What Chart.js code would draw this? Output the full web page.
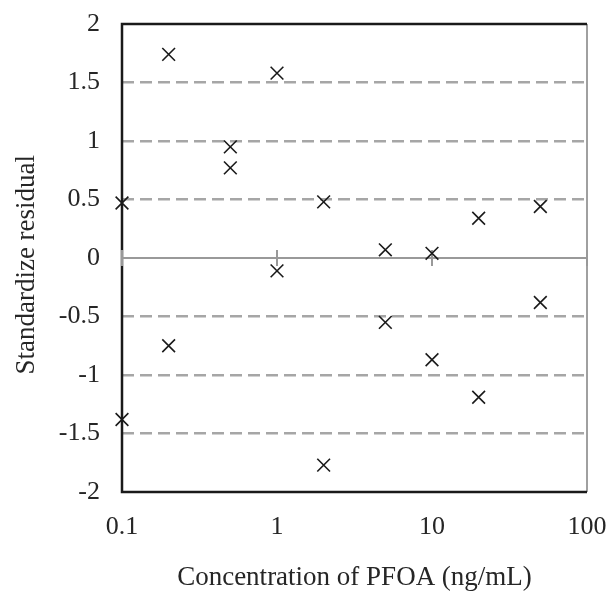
<!DOCTYPE html>
<html>
<head>
<meta charset="utf-8">
<script src="https://cdn.jsdelivr.net/npm/chart.js@4"></script>
<style>
  html, body { margin: 0; padding: 0; background: #fff; }
  #wrap { width: 611px; height: 594px; }
</style>
</head>
<body>
<div id="wrap"><canvas id="residualChart" width="611" height="594"></canvas></div>
<script>
// concentration (ng/mL) and standardized residual
const concentrations = [0.1, 0.1, 0.2, 0.2, 0.5, 0.5, 1, 1, 2, 2, 5, 5, 10, 10, 20, 20, 50, 50];
const residuals = [0.47, -1.38, 1.74, -0.75, 0.95, 0.77, 1.58, -0.11, 0.48, -1.77,
                   0.07, -0.55, 0.04, -0.87, 0.34, -1.19, 0.44, -0.38];
const xTickValues = [0.1, 1, 10, 100];
const yTickValues = [-2, -1.5, -1, -0.5, 0, 0.5, 1, 1.5, 2];

const SERIF = '"Liberation Serif", "Times New Roman", serif';
const TICK_FONT = { family: SERIF, size: 26 };
const TITLE_FONT = { family: SERIF, size: 27 };
const TEXT = '#262626';

// box around the plot, solid zero line and the little cross ticks on it
const framePlugin = {
  id: 'frame',
  beforeDatasetsDraw(chart) {
    const { ctx, chartArea: a, scales: { x, y } } = chart;
    const y0 = y.getPixelForValue(0);
    ctx.save();
    ctx.lineCap = 'butt';

    ctx.strokeStyle = '#a0a0a0';
    ctx.lineWidth = 2;
    ctx.beginPath();
    ctx.moveTo(a.right, a.top);
    ctx.lineTo(a.right, a.bottom);
    ctx.stroke();

    ctx.strokeStyle = '#1a1a1a';
    ctx.lineWidth = 2.5;
    ctx.beginPath();
    ctx.moveTo(a.right, a.top);
    ctx.lineTo(a.left, a.top);
    ctx.lineTo(a.left, a.bottom);
    ctx.lineTo(a.right, a.bottom);
    ctx.stroke();

    ctx.strokeStyle = '#999999';
    ctx.lineWidth = 2;
    ctx.beginPath();
    ctx.moveTo(a.left, y0);
    ctx.lineTo(a.right, y0);
    x.ticks.forEach(t => {
      const px = x.getPixelForValue(t.value);
      ctx.moveTo(px, y0 - 8);
      ctx.lineTo(px, y0 + 8);
    });
    ctx.stroke();
    ctx.restore();
  }
};

new Chart(document.getElementById('residualChart'), {
  type: 'scatter',
  data: {
    datasets: [{
      data: concentrations.map((c, i) => ({ x: c, y: residuals[i] })),
      pointStyle: 'crossRot',
      pointRadius: 9,
      pointHoverRadius: 9,
      borderColor: '#1a1a1a',
      backgroundColor: '#1a1a1a',
      pointBorderWidth: 1.6,
      clip: false
    }]
  },
  options: {
    responsive: false,
    animation: false,
    events: [],
    layout: { padding: { top: 24, right: 24, left: 0, bottom: 0 } },
    plugins: {
      legend: { display: false },
      tooltip: { enabled: false }
    },
    scales: {
      x: {
        type: 'logarithmic',
        min: 0.1,
        max: 100,
        afterBuildTicks: scale => { scale.ticks = xTickValues.map(v => ({ value: v })); },
        afterFit: scale => {
          scale.height = 102;
          scale.paddingLeft = 0;
          scale.paddingRight = 0;
        },
        grid: { display: false, drawTicks: false },
        border: { display: false },
        ticks: {
          padding: 20,
          color: TEXT,
          font: TICK_FONT,
          maxRotation: 0,
          callback: v => String(v)
        },
        title: {
          display: true,
          text: 'Concentration of PFOA (ng/mL)',
          color: TEXT,
          font: TITLE_FONT,
          padding: { top: 0, bottom: 0 }
        }
      },
      y: {
        min: -2,
        max: 2,
        afterBuildTicks: scale => { scale.ticks = yTickValues.map(v => ({ value: v })); },
        afterFit: scale => {
          scale.width = 122;
          scale.paddingTop = 0;
          scale.paddingBottom = 0;
        },
        grid: {
          drawTicks: false,
          lineWidth: 2.5,
          color: c => (c.tick && Math.abs(c.tick.value) !== 2 && c.tick.value !== 0) ? '#a6a6a6' : 'rgba(0,0,0,0)'
        },
        border: { display: false, dash: [12, 6] },
        ticks: {
          padding: 22,
          color: TEXT,
          font: TICK_FONT,
          callback: v => String(v)
        },
        title: {
          display: true,
          text: 'Standardize residual  ',
          color: TEXT,
          font: TITLE_FONT,
          padding: { top: 11, bottom: 0 }
        }
      }
    }
  },
  plugins: [framePlugin]
});
</script>
</body>
</html>
